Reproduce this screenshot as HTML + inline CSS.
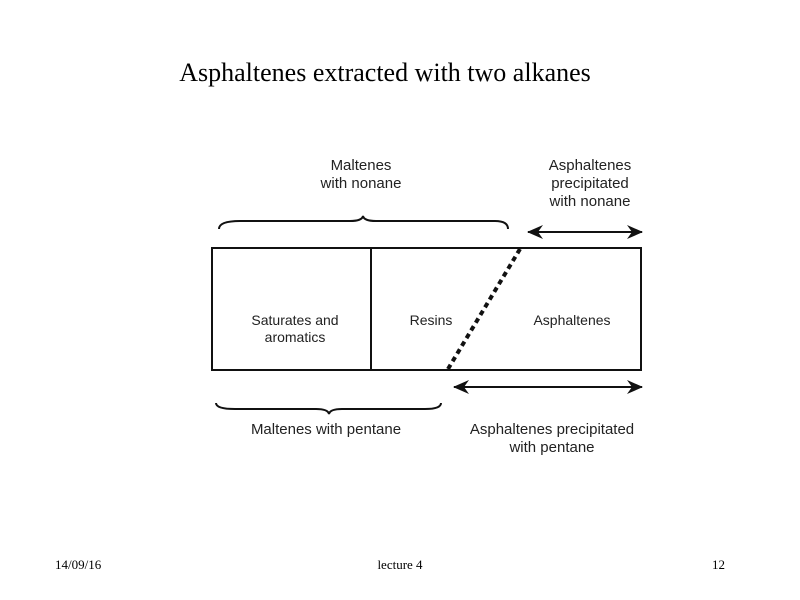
<!DOCTYPE html>
<html><head><style>
body{margin:0;width:800px;height:600px;background:#fff;overflow:hidden;position:relative}
.t{position:absolute;font-family:"Liberation Serif",serif;color:#000}
svg text{font-family:"Liberation Sans",sans-serif;font-size:15px;fill:#222}
</style></head><body>
<div class="t" style="left:0;width:770px;top:58px;text-align:center;font-size:26px">Asphaltenes extracted with two alkanes</div>
<div class="t" style="left:55px;top:557px;font-size:13px">14/09/16</div>
<div class="t" style="left:0;width:800px;top:557px;text-align:center;font-size:13px">lecture 4</div>
<div class="t" style="left:712px;top:557px;font-size:13px">12</div>
<svg width="800" height="600" style="position:absolute;left:0;top:0">
<defs><marker id="a" markerWidth="16" markerHeight="14" refX="15" refY="7" orient="auto-start-reverse" markerUnits="userSpaceOnUse"><path d="M0,0 L16,7 L0,14 L5,7z" fill="#111"/></marker></defs>
<rect x="212" y="248" width="429" height="122" fill="none" stroke="#111" stroke-width="2"/>
<line x1="371" y1="248" x2="371" y2="370" stroke="#111" stroke-width="2"/>
<line x1="520" y1="249" x2="448" y2="369" stroke="#111" stroke-width="4" stroke-dasharray="5,4"/>
<path d="M219,229 Q219,221 240,221 L350,221 Q362,221 363,216 Q364,221 376,221 L495,221 Q508,221 508,229" fill="none" stroke="#111" stroke-width="2"/>
<path d="M216,403 Q216,409 235,409 L316,409 Q328,409 329,414 Q330,409 342,409 L425,409 Q441,409 441,403" fill="none" stroke="#111" stroke-width="2"/>
<line x1="528" y1="232" x2="642" y2="232" stroke="#111" stroke-width="2" marker-start="url(#a)" marker-end="url(#a)"/>
<line x1="454" y1="387" x2="642" y2="387" stroke="#111" stroke-width="2" marker-start="url(#a)" marker-end="url(#a)"/>
<text x="361" y="170" text-anchor="middle">Maltenes</text>
<text x="361" y="188" text-anchor="middle">with nonane</text>
<text x="590" y="170" text-anchor="middle">Asphaltenes</text>
<text x="590" y="188" text-anchor="middle">precipitated</text>
<text x="590" y="206" text-anchor="middle">with nonane</text>
<text x="295" y="325" text-anchor="middle" style="font-size:14px">Saturates and</text>
<text x="295" y="342" text-anchor="middle" style="font-size:14px">aromatics</text>
<text x="431" y="325" text-anchor="middle" style="font-size:14px">Resins</text>
<text x="572" y="325" text-anchor="middle" style="font-size:14px">Asphaltenes</text>
<text x="326" y="434" text-anchor="middle">Maltenes with pentane</text>
<text x="552" y="434" text-anchor="middle">Asphaltenes precipitated</text>
<text x="552" y="452" text-anchor="middle">with pentane</text>
</svg>
</body></html>
